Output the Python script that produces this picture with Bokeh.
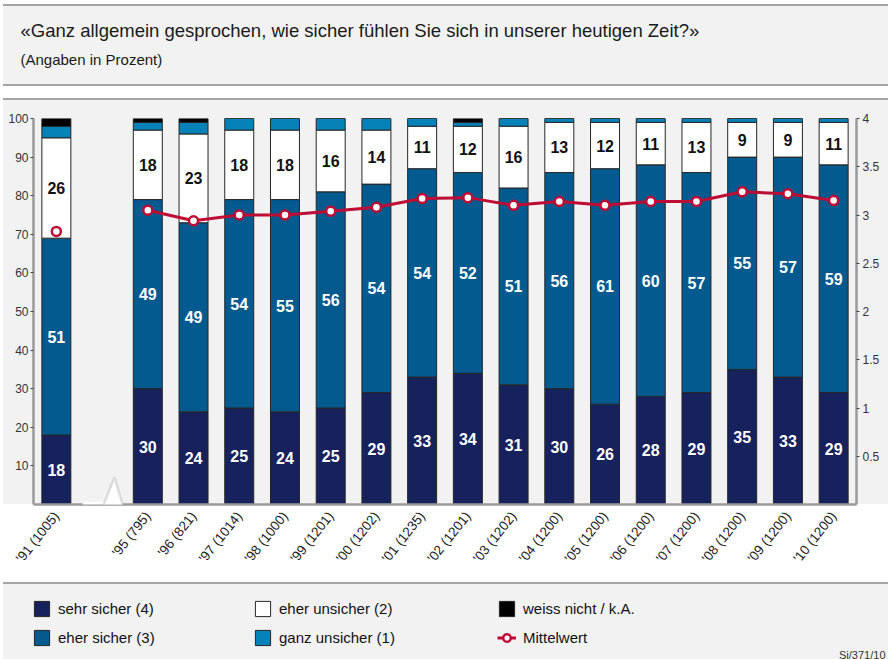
import math
from bokeh.plotting import figure
from bokeh.layouts import column
from bokeh.models import (ColumnDataSource, Range1d, LinearAxis, FixedTicker, Title,
                          Legend, LegendItem, PolyAnnotation, BoxAnnotation)
from bokeh.core.properties import value
from bokeh.embed import file_html
from bokeh.resources import INLINE

# ---------------- data ----------------
year_labels = ["'91 (1005)", "'95 (795)", "'96 (821)", "'97 (1014)", "'98 (1000)",
               "'99 (1201)", "'00 (1202)", "'01 (1235)", "'02 (1201)", "'03 (1202)",
               "'04 (1200)", "'05 (1200)", "'06 (1200)", "'07 (1200)", "'08 (1200)",
               "'09 (1200)", "'10 (1200)"]
sehr_sicher = [18, 30, 24, 25, 24, 25, 29, 33, 34, 31, 30, 26, 28, 29, 35, 33, 29]
eher_sicher = [51, 49, 49, 54, 55, 56, 54, 54, 52, 51, 56, 61, 60, 57, 55, 57, 59]
eher_unsicher = [26, 18, 23, 18, 18, 16, 14, 11, 12, 16, 13, 12, 11, 13, 9, 9, 11]
ganz_unsicher = [3, 2, 3, 3, 3, 3, 3, 2, 1, 2, 1, 1, 1, 1, 1, 1, 1]
weiss_nicht = [2, 1, 1, 0, 0, 0, 0, 0, 1, 0, 0, 0, 0, 0, 0, 0, 0]
mittelwert = [2.83, 3.05, 2.94, 3.00, 3.00, 3.04, 3.08, 3.17, 3.18, 3.10,
              3.14, 3.10, 3.14, 3.14, 3.24, 3.22, 3.15]
left_ticks = [10, 20, 30, 40, 50, 60, 70, 80, 90, 100]
right_ticks = [0.5, 1, 1.5, 2, 2.5, 3, 3.5, 4]
series_names = ["sehr sicher (4)", "eher sicher (3)", "eher unsicher (2)",
                "ganz unsicher (1)", "weiss nicht / k.A."]
mean_name = "Mittelwert"
title_text = "«Ganz allgemein gesprochen, wie sicher fühlen Sie sich in unserer heutigen Zeit?»"
subtitle_text = "(Angaben in Prozent)"
source_note = "Si/371/10"

# axis break after the first survey (one empty slot)
positions = [i if i == 0 else i + 1 for i in range(len(year_labels))]

# ---------------- style ----------------
NAVY = "#17215c"
BLUE = "#035a8e"
LIGHT = "#0682b8"
RED = "#be0c34"
GRAY_AX = "#9a9a9a"
BG = "#f2f2f2"
LINE = "#a5a5a5"
FONT = "Liberation Sans"
W = 888
COLORS = [NAVY, BLUE, "#ffffff", LIGHT, "#000000"]
OUTLINE = "#262626"
EDGE = "linear-gradient(to right, #ffffff 0px, #ffffff 3px, rgba(255,255,255,0) 3px)"


def grad(stops):
    parts = [f"{c} {a}px, {c} {b}px" for c, a, b in stops]
    return {"background": EDGE + ", linear-gradient(to bottom, " + ", ".join(parts) + ")"}


# ---------------- main chart (with header) ----------------
MH = 585
p = figure(width=W, height=MH, x_range=Range1d(-0.5, 17.5), y_range=Range1d(0, 100),
           output_backend="svg", toolbar_location=None,
           min_border_left=33, min_border_right=32, min_border_top=118, min_border_bottom=81,
           border_fill_color=None, background_fill_color=None, outline_line_color=None,
           styles=grad([("#ffffff", 0, 4), (LINE, 4, 6), (BG, 6, 84), (LINE, 84, 86),
                        ("#ffffff", 86, 98), (LINE, 98, 100), (BG, 100, 504),
                        ("#ffffff", 504, 582), (LINE, 582, 584), (BG, 584, MH)]))
p.xgrid.visible = False
p.ygrid.visible = False

# bottom axis with survey labels (its line is the baseline)
xax = p.below[0]
xax.ticker = FixedTicker(ticks=positions)
xax.major_label_overrides = {pos: lab for pos, lab in zip(positions, year_labels)}
xax.axis_line_color = GRAY_AX
xax.axis_line_width = 2.5
xax.major_tick_line_color = None
xax.minor_tick_line_color = None
xax.major_label_orientation = 0.9
xax.major_label_standoff = 3
xax.major_label_text_font = FONT
xax.major_label_text_font_size = "13.5px"
xax.major_label_text_color = "#222222"

# left axis
yax = p.left[0]
yax.ticker = FixedTicker(ticks=left_ticks)
yax.axis_line_color = GRAY_AX
yax.axis_line_width = 2.5
yax.major_tick_line_color = "#444444"
yax.major_tick_out = 3
yax.major_tick_in = 0
yax.minor_tick_line_color = None
yax.major_label_standoff = 2
yax.major_label_text_font = FONT
yax.major_label_text_font_size = "12px"
yax.major_label_text_color = "#333333"

# right axis (Mittelwert 0..4)
p.extra_y_ranges = {"mw": Range1d(0, 4)}
rax = LinearAxis(y_range_name="mw", ticker=FixedTicker(ticks=right_ticks),
                 major_label_overrides={t: (str(int(t)) if float(t).is_integer() else str(t))
                                        for t in right_ticks})
rax.axis_line_color = GRAY_AX
rax.axis_line_width = 2.5
rax.major_tick_line_color = "#444444"
rax.major_tick_out = 3
rax.major_tick_in = 0
rax.minor_tick_line_color = None
rax.major_label_standoff = 3
rax.major_label_text_font = FONT
rax.major_label_text_font_size = "12px"
rax.major_label_text_color = "#333333"
p.add_layout(rax, "right")

# header: spacer title (blank), subtitle, title
p.add_layout(Title(text="\u00a0", align="left", standoff=30, text_font=FONT,
                   text_font_size="10px", text_color=BG), "above")
p.add_layout(Title(text=subtitle_text, align="left", offset=-13, standoff=16,
                   text_font=FONT, text_font_size="15px", text_font_style="normal",
                   text_color="#1a1a1a"), "above")
p.add_layout(Title(text=title_text, align="left", offset=-13, standoff=0,
                   text_font=FONT, text_font_size="18.5px", text_font_style="normal",
                   text_color="#1a1a1a"), "above")

# stacked bars
src = ColumnDataSource(dict(x=positions, s1=sehr_sicher, s2=eher_sicher, s3=eher_unsicher,
                            s4=ganz_unsicher, s5=weiss_nicht))
bars = p.vbar_stack(["s1", "s2", "s3", "s4", "s5"], x="x", width=0.634, source=src,
                    fill_color=COLORS, line_color=OUTLINE, line_width=1)

# value labels in the segments
lx, ly, lt, lc = [], [], [], []
for x, a, b, c in zip(positions, sehr_sicher, eher_sicher, eher_unsicher):
    lx += [x, x, x]
    ly += [a / 2, a + b / 2, a + b + c / 2]
    lt += [str(a), str(b), str(c)]
    lc += ["#ffffff", "#ffffff", "#111111"]
p.text(x=lx, y=ly, text=lt, text_color=lc, text_align="center", text_baseline="middle",
       text_font=value(FONT), text_font_size="16px", text_font_style="bold")

# Mittelwert line (not connected across the axis break)
p.line(x=positions[1:], y=mittelwert[1:], y_range_name="mw", line_color=RED, line_width=3)
p.scatter(x=positions, y=mittelwert, y_range_name="mw", marker="circle", size=9,
          fill_color="#ffffff", line_color=RED, line_width=2.5)

# axis-break zigzag in the empty slot
gap = positions[1] - 1
zx = [gap - 0.427, gap - 0.165, gap + 0.27, gap + 0.45]
zy = [0, -5.96, 7.0, 0]
p.add_layout(BoxAnnotation(left=zx[0], right=zx[3], bottom=-0.7, top=0.7,
                           fill_color="#ffffff", fill_alpha=1, line_alpha=0))
p.add_layout(PolyAnnotation(xs=[gap + 0.03, zx[2], zx[3]], ys=[0, zy[2], 0],
                            fill_color="#ffffff", fill_alpha=1, line_alpha=0))
p.add_layout(PolyAnnotation(xs=zx + zx[::-1], ys=zy + zy[::-1], fill_alpha=0,
                            line_color=GRAY_AX, line_width=2.5))

# ---------------- legend ----------------
LH = 74
leg = figure(width=W, height=LH, x_range=Range1d(0, 1), y_range=Range1d(0, 1),
             output_backend="svg", toolbar_location=None,
             min_border_left=0, min_border_right=0, min_border_top=0, min_border_bottom=0,
             x_axis_type=None, y_axis_type=None, outline_line_color=None,
             border_fill_color=None, background_fill_color=None,
             styles=grad([(BG, 0, LH)]))
leg.xgrid.visible = False
leg.ygrid.visible = False
# legend-only renderers: degenerate (zero-size) so nothing is drawn in the panel
items = []
for name, col in zip(series_names, COLORS):
    r = leg.vbar(x=[0.5], bottom=[0.5], top=[0.5], width=0, fill_color=col,
                 line_color=OUTLINE, line_width=1)
    items.append(LegendItem(label=name, renderers=[r]))
lr = leg.line(x=[0.5, 0.5], y=[0.5, 0.5], line_color=RED, line_width=3)
sr = leg.scatter(x=[3.0], y=[0.5], marker="circle", size=9, fill_color="#ffffff",
                 line_color=RED, line_width=2.5)
items.append(LegendItem(label=mean_name, renderers=[lr, sr]))

common = dict(orientation="vertical", nrows=2, glyph_width=19, glyph_height=19,
              label_height=19, label_standoff=7, spacing=10, padding=0, margin=0,
              background_fill_alpha=0, border_line_alpha=0, label_text_font=FONT,
              label_text_font_size="15px", label_text_color="#111111")
leg.add_layout(Legend(items=items[:4], location=(-1, 0), label_width=185, **common), "center")
leg.add_layout(Legend(items=items[4:], location=(464, 0), label_width=150, **common), "center")
leg.add_layout(Title(text=source_note, align="right", offset=-29, standoff=-2,
                     text_font=FONT, text_font_size="11px", text_font_style="normal",
                     text_color="#333333"), "below")

layout = column(p, leg, spacing=0)
open("out.html", "w").write(file_html(layout, INLINE))
